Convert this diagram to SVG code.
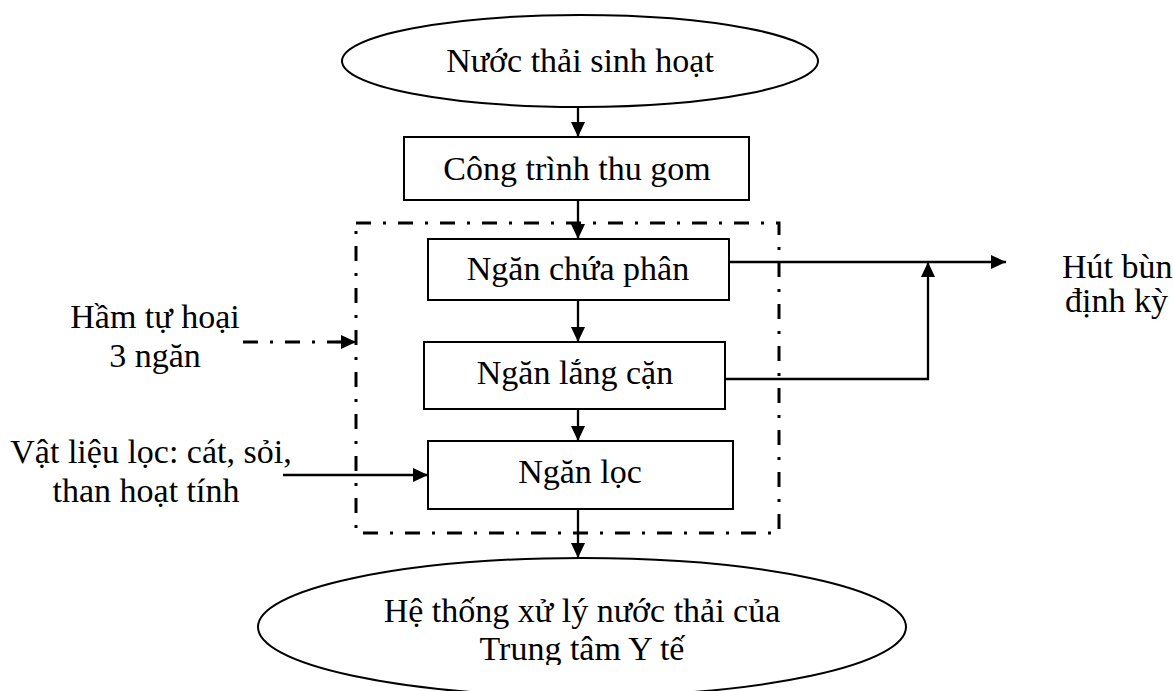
<svg xmlns="http://www.w3.org/2000/svg" width="1173" height="691" viewBox="0 0 1173 691">
  <style>
    text { font-family: "Liberation Serif", "Times New Roman", serif; font-size: 34px; fill: #000; }
    .c { text-anchor: middle; }
    .shape { fill: #fff; stroke: #000; stroke-width: 2; }
    .conn { fill: none; stroke: #000; stroke-width: 2.3; }
    .dashdot { fill: none; stroke: #000; stroke-width: 3; stroke-dasharray: 15 12 3 12; }
  </style>
  <defs>
    <marker id="arrow" markerUnits="userSpaceOnUse" markerWidth="16" markerHeight="14" refX="15" refY="7" orient="auto">
      <path d="M0,0 L15,7 L0,14 Z" fill="#000"/>
    </marker>
    <clipPath id="bottomText">
      <rect x="0" y="0" width="1173" height="665"/>
    </clipPath>
  </defs>

  <!-- septic tank boundary -->
  <g id="septic-tank">
    <rect class="dashdot" x="356" y="223" width="423" height="310"/>
  </g>

  <!-- connectors -->
  <g id="connectors">
    <line class="conn" x1="578" y1="107" x2="578" y2="137" marker-end="url(#arrow)"/>
    <line class="conn" x1="578" y1="200" x2="578" y2="239" marker-end="url(#arrow)"/>
    <line class="conn" x1="578" y1="300" x2="578" y2="342" marker-end="url(#arrow)"/>
    <line class="conn" x1="578" y1="409" x2="578" y2="441" marker-end="url(#arrow)"/>
    <line class="conn" x1="578" y1="509" x2="578" y2="558" marker-end="url(#arrow)"/>
    <line class="conn" x1="729" y1="262" x2="1006" y2="262" marker-end="url(#arrow)"/>
    <polyline class="conn" points="725,379 928,379 928,262" marker-end="url(#arrow)"/>
    <line class="conn" x1="283" y1="475" x2="428" y2="475" marker-end="url(#arrow)"/>
    <line class="dashdot" x1="243" y1="342" x2="341" y2="342"/>
    <line class="conn" x1="336" y1="342" x2="356" y2="342" marker-end="url(#arrow)"/>
  </g>

  <g id="domestic-wastewater">
    <ellipse class="shape" cx="580" cy="61" rx="238" ry="46"/>
    <text class="c" x="580" y="72">Nước thải sinh hoạt</text>
  </g>

  <g id="collection">
    <rect class="shape" x="404" y="137" width="345" height="63"/>
    <text class="c" x="577" y="180">Công trình thu gom</text>
  </g>

  <g id="faeces-chamber">
    <rect class="shape" x="428" y="239" width="301" height="61"/>
    <text class="c" x="578" y="280">Ngăn chứa phân</text>
  </g>

  <g id="settling-chamber">
    <rect class="shape" x="424" y="342" width="301" height="67"/>
    <text class="c" x="575" y="384">Ngăn lắng cặn</text>
  </g>

  <g id="filter-chamber">
    <rect class="shape" x="428" y="441" width="305" height="68"/>
    <text class="c" x="580" y="483">Ngăn lọc</text>
  </g>

  <g id="treatment-system">
    <ellipse class="shape" cx="582" cy="627" rx="324" ry="69"/>
    <g clip-path="url(#bottomText)">
      <text class="c" x="582" y="622">Hệ thống xử lý nước thải của</text>
      <text class="c" x="582" y="660">Trung tâm Y tế</text>
    </g>
  </g>

  <g id="septic-label">
    <text class="c" x="155" y="328">Hầm tự hoại</text>
    <text class="c" x="155" y="367">3 ngăn</text>
  </g>

  <g id="filter-media">
    <text class="c" x="151" y="463">Vật liệu lọc: cát, sỏi,</text>
    <text class="c" x="146" y="502">than hoạt tính</text>
  </g>

  <g id="sludge-pumping">
    <text x="1062" y="278">Hút bùn</text>
    <text x="1065" y="312">định kỳ</text>
  </g>
</svg>
